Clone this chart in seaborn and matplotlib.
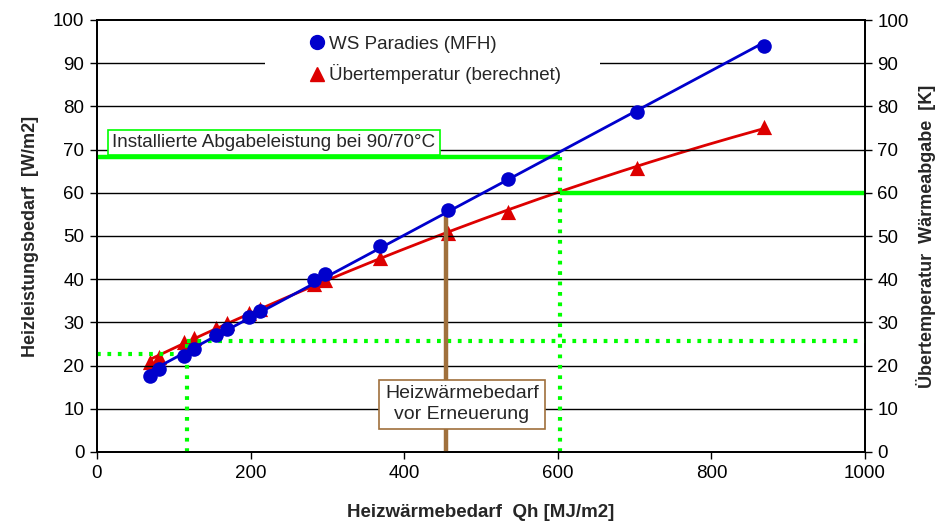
import numpy as np
import pandas as pd
import matplotlib
matplotlib.use("Agg")
import matplotlib.pyplot as plt
from matplotlib.lines import Line2D
from matplotlib.patches import Rectangle
import seaborn as sns

# Heating energy demand Qh [MJ/m2] of the buildings
qh = [69, 81, 113, 126, 155, 169, 198, 212, 283, 297, 368, 457, 535, 703, 868]
# Heating load [W/m2] (WS Paradies, MFH)
leistung = [17.6, 19.2, 22.2, 23.8, 27.1, 28.4, 31.3, 32.6, 39.8, 41.2, 47.7, 56.0, 63.2, 78.7, 94.0]
# Calculated excess temperature of the radiators [K]
uebertemp = [20.8, 22.0, 25.5, 26.3, 28.8, 29.8, 32.2, 33.0, 38.9, 39.8, 44.8, 50.7, 55.6, 65.8, 75.2]

x_ticks = [0, 200, 400, 600, 800, 1000]
y_ticks = list(range(0, 101, 10))

# reference levels
installiert = 68.2        # installed output at 90/70 °C [W/m2]
qh_installiert = 603      # Qh at which the installed output is reached
temp_installiert = 60.0   # excess temperature at that point [K]
qh_alt = 455              # heating demand before renovation
qh_neu = 117              # heating demand after renovation
leistung_neu = 22.7
temp_neu = 25.6

sns.set_theme(style="white")
plt.rcParams["font.family"] = ["Liberation Sans", "DejaVu Sans"]

fig = plt.figure(figsize=(9.4, 5.24), dpi=100)
ax = fig.add_axes([97 / 940, 72 / 524, 768 / 940, 432 / 524])
ax2 = ax.twinx()
ax2.set_position(ax.get_position())

blue = "#0000cc"
red = "#dd0000"
green = "#00ff00"
brown = "#a0703c"

df = pd.DataFrame({"qh": qh, "leistung": leistung, "uebertemp": uebertemp})

# trend lines through the measured / calculated points
xs = np.linspace(min(qh), max(qh), 200)
fit_b = np.polyval(np.polyfit(qh, leistung, 1), xs)
fit_r = np.polyval(np.polyfit(qh, uebertemp, 2), xs)
trend = pd.DataFrame({"x": xs, "b": fit_b, "r": fit_r})

for ylev in y_ticks[1:-1]:
    ax.axhline(ylev, color="black", lw=1.0, zorder=0.5)

# white area behind the legend
ax.add_patch(Rectangle((219, 83.5), 436, 16.3, facecolor="white", edgecolor="none", zorder=0.8))

# green construction lines
dot = (0, (0.9, 1.6))
ax.plot([0, qh_installiert], [installiert, installiert], color=green, lw=3.2, zorder=2, solid_capstyle="butt")
ax.plot([qh_installiert, qh_installiert], [0, installiert], color=green, lw=3.0, ls=dot, zorder=2)
ax.plot([qh_installiert, 1000], [temp_installiert, temp_installiert], color=green, lw=3.2, zorder=2, solid_capstyle="butt")
ax.plot([0, qh_neu], [leistung_neu, leistung_neu], color=green, lw=3.0, ls=dot, zorder=2)
ax.plot([qh_neu, qh_neu], [0, temp_neu], color=green, lw=3.0, ls=dot, zorder=2)
ax.plot([qh_neu, 1000], [temp_neu, temp_neu], color=green, lw=3.0, ls=dot, zorder=2)

# demand before renovation
ax.plot([qh_alt, qh_alt], [0, leistung[qh.index(457)]], color=brown, lw=3.2, zorder=2.5, solid_capstyle="butt")

sns.lineplot(data=trend, x="x", y="b", ax=ax, color=blue, lw=2.0, zorder=3)
sns.scatterplot(data=df, x="qh", y="leistung", ax=ax, color=blue, marker="o", s=110,
                edgecolor=blue, linewidth=0, zorder=4)
sns.lineplot(data=trend, x="x", y="r", ax=ax2, color=red, lw=2.0, zorder=3)
sns.scatterplot(data=df, x="qh", y="uebertemp", ax=ax2, color=red, marker="^", s=120,
                edgecolor=red, linewidth=0, zorder=4)

for a in (ax, ax2):
    a.set_xlim(0, 1000)
    a.set_ylim(0, 100)
    a.set_yticks(y_ticks)
    for s in a.spines.values():
        s.set_color("black")
        s.set_linewidth(1.3)
ax.set_zorder(2)
ax2.set_zorder(1)
ax.patch.set_visible(False)
ax2.patch.set_visible(True)
ax2.patch.set_facecolor("white")
ax.set_xticks(x_ticks)

ax.tick_params(axis="both", direction="out", length=5, width=1, colors="black", labelsize=13.5, pad=4,
               left=True, bottom=True)
ax2.tick_params(axis="y", direction="out", length=5, width=1, colors="black", labelsize=13.5, pad=4, right=True)

ax.set_xlabel("Heizwärmebedarf  Qh [MJ/m2]", fontsize=13.5, fontweight="bold", labelpad=16)
ax.set_ylabel("Heizleistungsbedarf  [W/m2]", fontsize=13, fontweight="bold", labelpad=10)
ax2.set_ylabel("Übertemperatur  Wärmeabgabe  [K]", fontsize=13, fontweight="bold", labelpad=5)

ax.text(20, 71.7, "Installierte Abgabeleistung bei 90/70°C", fontsize=13.6, va="center", ha="left", zorder=6,
        bbox=dict(boxstyle="square,pad=0.22", fc="white", ec=green, lw=1.2))
ax.text(475, 11.1, "Heizwärmebedarf\nvor Erneuerung", fontsize=14, va="center", ha="center", zorder=6,
        linespacing=1.25,
        bbox=dict(boxstyle="square,pad=0.3", fc="white", ec=brown, lw=1.2))

handles = [
    Line2D([], [], marker="o", color=blue, ls="none", markersize=10),
    Line2D([], [], marker="^", color=red, ls="none", markersize=10),
]
leg = ax.legend(handles, ["WS Paradies (MFH)", "Übertemperatur (berechnet)"], loc="upper left",
                bbox_to_anchor=(200 / 768, 0.983), fontsize=13.5, frameon=False,
                handletextpad=0.05, handlelength=1.2, labelspacing=0.6, borderpad=0.45, borderaxespad=0)
leg.set_zorder(7)

fig.savefig("out.png", dpi=100)
